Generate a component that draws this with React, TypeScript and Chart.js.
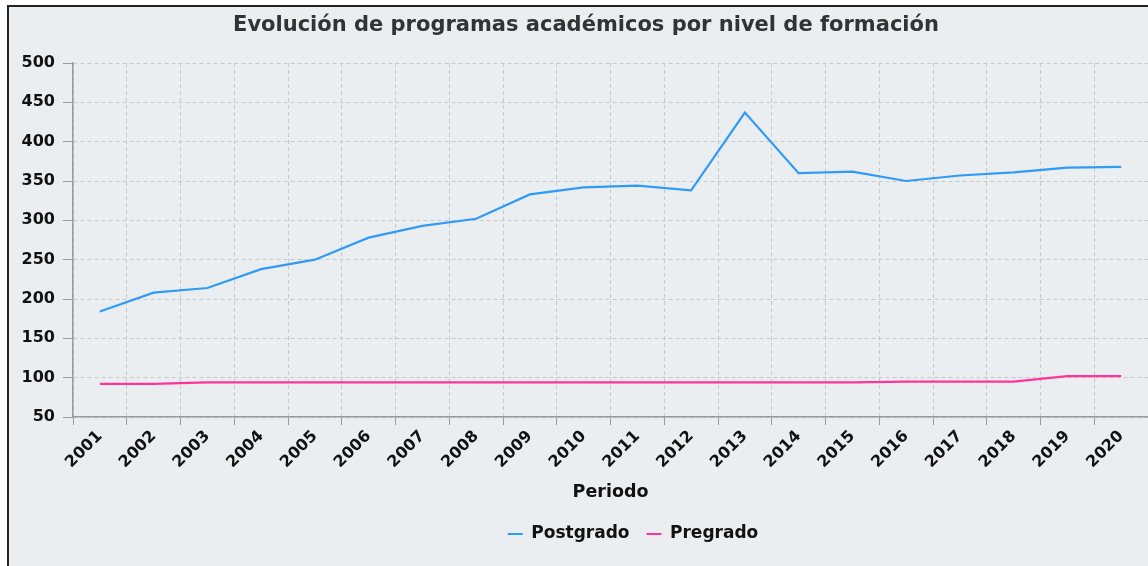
import React, { useEffect, useRef } from "react";
import { Chart, registerables } from "chart.js";

Chart.register(...registerables);

const years = [
  "2001", "2002", "2003", "2004", "2005", "2006", "2007", "2008", "2009", "2010",
  "2011", "2012", "2013", "2014", "2015", "2016", "2017", "2018", "2019", "2020",
];
const postgrado = [
  184, 208, 214, 238, 250, 278, 293, 302, 333, 342,
  344, 338, 437, 360, 362, 350, 357, 361, 367, 368,
];
const pregrado = [
  92, 92, 94, 94, 94, 94, 94, 94, 94, 94,
  94, 94, 94, 94, 94, 95, 95, 95, 102, 102,
];
const yMin = 50;
const yMax = 500;
const yStep = 50;

const titleText = "Evolución de programas académicos por nivel de formación";
const xTitle = "Periodo";
const seriesNames = ["Postgrado", "Pregrado"];

const FONT = "'DejaVu Sans', sans-serif";
const W = 1148;
const H = 566;

const shiftPlugin = {
  id: "shiftBoxes",
  afterLayout(chart: any) {
    const t = chart.titleBlock;
    if (t) {
      t.left += 12;
      t.right += 12;
    }
    const l = chart.legend;
    if (l) {
      l.left += 59;
      l.right += 59;
    }
  },
};

export default function App() {
  const ref = useRef<HTMLCanvasElement | null>(null);

  useEffect(() => {
    if (!ref.current) return;
    const gridColor = "#c6c9cc";
    const axisColor = "#9a9a9a";
    const chart = new Chart(ref.current, {
      type: "line",
      data: {
        labels: years,
        datasets: [
          {
            label: seriesNames[0],
            data: postgrado,
            borderColor: "#2f9bf7",
            backgroundColor: "#2f9bf7",
            borderWidth: 2.2,
            pointRadius: 0,
            tension: 0,
            fill: false,
          },
          {
            label: seriesNames[1],
            data: pregrado,
            borderColor: "#ff3399",
            backgroundColor: "#ff3399",
            borderWidth: 2.2,
            pointRadius: 0,
            tension: 0,
            fill: false,
          },
        ],
      },
      options: {
        animation: false,
        responsive: false,
        maintainAspectRatio: false,
        layout: { padding: { left: 0, right: 0, top: 0, bottom: 13.5 } },
        plugins: {
          title: {
            display: true,
            text: titleText,
            color: "#333333",
            font: { family: FONT, size: 21, weight: "bold" },
            padding: { top: 13, bottom: 24.8 },
          },
          legend: {
            position: "bottom",
            labels: {
              usePointStyle: true,
              pointStyle: "line",
              pointStyleWidth: 15,
              padding: 17,
              color: "#111111",
              font: { family: FONT, size: 17, weight: "bold" },
            },
          },
          tooltip: { enabled: false },
        },
        scales: {
          x: {
            type: "category",
            offset: true,
            grid: {
              offset: true,
              color: gridColor,
              lineWidth: 1,
              drawTicks: true,
              tickLength: 8,
              tickColor: axisColor,
            },
            border: { display: true, color: axisColor, width: 1.5, dash: [4, 3] },
            ticks: {
              color: "#111111",
              font: { family: FONT, size: 16, weight: "bold" },
              maxRotation: 45,
              minRotation: 45,
              padding: 2,
              autoSkip: false,
            },
            title: {
              display: true,
              text: xTitle,
              color: "#111111",
              font: { family: FONT, size: 17.5, weight: "bold" },
              padding: { top: 0, bottom: 6 },
            },
            afterFit: (s: any) => {
              s.height = 91.5;
            },
          },
          y: {
            min: yMin,
            max: yMax,
            grid: {
              color: gridColor,
              lineWidth: 1,
              tickLength: 10,
              tickColor: axisColor,
            },
            border: { display: true, color: axisColor, width: 1.5, dash: [4, 3] },
            ticks: {
              stepSize: yStep,
              color: "#111111",
              font: { family: FONT, size: 16, weight: "bold" },
              padding: 8,
            },
            afterFit: (s: any) => {
              s.width = 73;
            },
          },
        },
      },
      plugins: [shiftPlugin],
    } as any);
    return () => chart.destroy();
  }, []);

  return (
    <div
      style={{
        position: "fixed",
        left: 0,
        top: 0,
        width: W,
        height: H,
        overflow: "hidden",
        background: "#ffffff",
      }}
    >
      <div
        style={{
          position: "absolute",
          left: 7,
          top: 5,
          width: 1200,
          height: 700,
          border: "2px solid #222222",
          background: "#ebeef0",
        }}
      />
      <canvas
        ref={ref}
        width={W}
        height={H}
        style={{ position: "absolute", left: 0, top: 0, width: W, height: H }}
      />
    </div>
  );
}
